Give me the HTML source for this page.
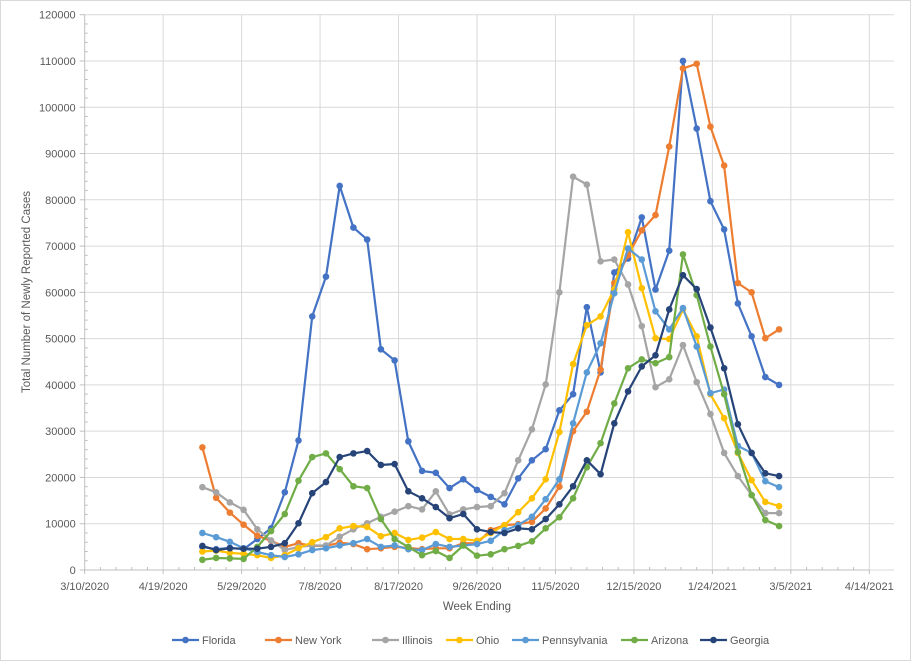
<!DOCTYPE html>
<html><head><meta charset="utf-8"><style>
html,body{margin:0;padding:0;background:#fff}
svg{display:block;font-family:"Liberation Sans",sans-serif}
</style></head><body>
<svg id="c" width="911" height="661" viewBox="0 0 911 661" xmlns="http://www.w3.org/2000/svg">
<rect x="0.5" y="0.5" width="910" height="660" fill="#fff" stroke="#d9d9d9"/>
<g id="grid"></g>
<g id="series"></g>
<g fill="#595959" font-size="11">
<text transform="translate(30,292) rotate(-90)" text-anchor="middle" font-size="11.5">Total Number of Newly Reported Cases</text>
<text x="477" y="610" text-anchor="middle" font-size="11.5">Week Ending</text>
</g>
<g id="legend" font-size="11" fill="#595959"></g>
</svg>
<script>
const ns="http://www.w3.org/2000/svg";
function el(p,t,a,txt){const e=document.createElementNS(ns,t);for(const k in a)e.setAttribute(k,a[k]);if(txt!==undefined)e.textContent=txt;p.appendChild(e);return e;}
const X0=84.7,X1=869.3,Y0=570,Yt=14.7;
const g=document.getElementById('grid');
const ky=(Y0-Yt)/120;
for(let i=0;i<=12;i++){const y=Y0-i*10*ky;
 el(g,'line',{x1:X0,x2:894,y1:y,y2:y,stroke:'#d9d9d9','stroke-width':1});
 el(g,'line',{x1:X0-5,x2:X0,y1:y,y2:y,stroke:'#bfbfbf'});
 el(g,'text',{x:X0-9,y:y+4,'text-anchor':'end','font-size':11,fill:'#595959'},String(i*10000));
 if(i<12)for(let m=1;m<5;m++){const yy=y-m*2*ky;el(g,'line',{x1:X0,x2:X0+3,y1:yy,y2:yy,stroke:'#bfbfbf'});}
}
const dx=(X1-X0)/10;
const labs=["3/10/2020","4/19/2020","5/29/2020","7/8/2020","8/17/2020","9/26/2020","11/5/2020","12/15/2020","1/24/2021","3/5/2021","4/14/2021"];
for(let i=0;i<=10;i++){const x=X0+i*dx;
 if(i>0)el(g,'line',{x1:x,x2:x,y1:Yt,y2:Y0,stroke:'#d9d9d9'});
 el(g,'line',{x1:x,x2:x,y1:Y0,y2:Y0+4,stroke:'#bfbfbf'});
 el(g,'text',{x:x,y:Y0+20,'text-anchor':'middle','font-size':11,fill:'#595959'},labs[i]);
 if(i<10)for(let m=1;m<5;m++){const xx=x+m*dx/5;el(g,'line',{x1:xx,x2:xx,y1:Y0-3,y2:Y0,stroke:'#bfbfbf'});}
}
el(g,'line',{x1:X0,x2:X0,y1:Yt,y2:Y0,stroke:'#bfbfbf'});
el(g,'line',{x1:X0,x2:X1,y1:Y0,y2:Y0,stroke:'#bfbfbf'});
const S=[
["Florida","#4472C4",[5,4.5,4.8,4.5,6.7,9,16.8,28,54.8,63.4,83,74,71.4,47.7,45.3,27.8,21.4,21,17.7,19.6,17.3,15.8,14.2,19.8,23.7,26.1,34.5,38,56.8,42.7,64.3,67.3,76.2,60.6,69,110,95.4,79.7,73.6,57.6,50.5,41.7,40]],
["New York","#ED7D31",[26.5,15.6,12.4,9.8,7.4,6.3,5,5.8,5.2,5.2,5.9,5.6,4.5,4.7,5,4.8,4.5,4.7,4.7,5.8,5.8,8.6,9.7,9.9,10.4,13.3,18,30,34.2,43.3,62,68,73.4,76.7,91.5,108.4,109.4,95.8,87.4,62,60,50.1,52]],
["Illinois","#A5A5A5",[17.9,16.8,14.6,13,8.8,6.4,4.3,5,5.3,5.3,7.2,8.8,10.1,11.5,12.6,13.8,13.1,17,12,13.1,13.6,13.8,16.6,23.7,30.4,40.1,60,85,83.3,66.7,67.1,61.7,52.7,39.5,41.2,48.6,40.6,33.7,25.3,20.3,16.2,12.3,12.3]],
["Ohio","#FFC000",[4,4.2,3.7,3.5,3.2,2.6,3.2,4.7,6,7.1,9,9.5,9.3,7.3,8,6.5,7,8.2,6.7,6.7,6.3,8,9.7,12.5,15.5,19.6,29.8,44.5,52.9,54.8,60.7,73,60.9,50.1,49.9,56.3,50.5,38,32.8,25.3,19.4,14.7,13.8]],
["Pennsylvania","#5B9BD5",[8,7.1,6.1,4.7,3.9,3.2,2.8,3.4,4.3,4.7,5.3,5.8,6.7,5,5.3,4.5,4.3,5.6,5,5.3,5.6,6.3,8.6,9.7,11.5,15.3,19.6,31.7,42.7,49,59.8,69.5,67.1,55.9,52,56.6,48.3,38.2,39,26.8,25.3,19.2,17.9]],
["Arizona","#70AD47",[2.2,2.6,2.5,2.4,5,8.4,12.1,19.3,24.4,25.2,21.8,18.1,17.7,11,6.7,5,3.2,4.1,2.6,5.3,3.1,3.4,4.5,5.2,6.2,9,11.4,15.5,22.2,27.4,36,43.6,45.5,44.7,46,68.2,59.4,48.3,38,25.5,16.2,10.8,9.5]],
["Georgia","#264478",[5.2,4.3,4.7,4.6,4.6,5,5.8,10.1,16.6,19,24.4,25.2,25.7,22.7,22.9,17,15.5,13.6,11.2,12.1,8.8,8.2,8,9,8.8,11,14.2,18.1,23.7,20.7,31.7,38.6,44,46.4,56.3,63.7,60.7,52.4,43.6,31.5,25.3,20.9,20.3]]
];
const sg=document.getElementById('series');
const px=i=>X0+(60+7*i)*(X1-X0)/400;
S.forEach(([n,c,d])=>{
 const pts=d.map((v,i)=>px(i).toFixed(1)+','+(Y0-v*ky).toFixed(1)).join(' ');
 el(sg,'polyline',{points:pts,fill:'none',stroke:c,'stroke-width':2.2,'stroke-linejoin':'round'});
 d.forEach((v,i)=>el(sg,'circle',{cx:px(i),cy:Y0-v*ky,r:3.3,fill:c}));
});
const lg=document.getElementById('legend');
const lx=[172,265,372,446,512,621,700];
S.forEach(([n,c],i)=>{const x=lx[i];
 el(lg,'line',{x1:x,x2:x+27,y1:640,y2:640,stroke:c,'stroke-width':2.2});
 el(lg,'circle',{cx:x+13.5,cy:640,r:3.3,fill:c});
 el(lg,'text',{x:x+30,y:644,'font-size':11,fill:'#595959'},n);
});
</script>
</body></html>
